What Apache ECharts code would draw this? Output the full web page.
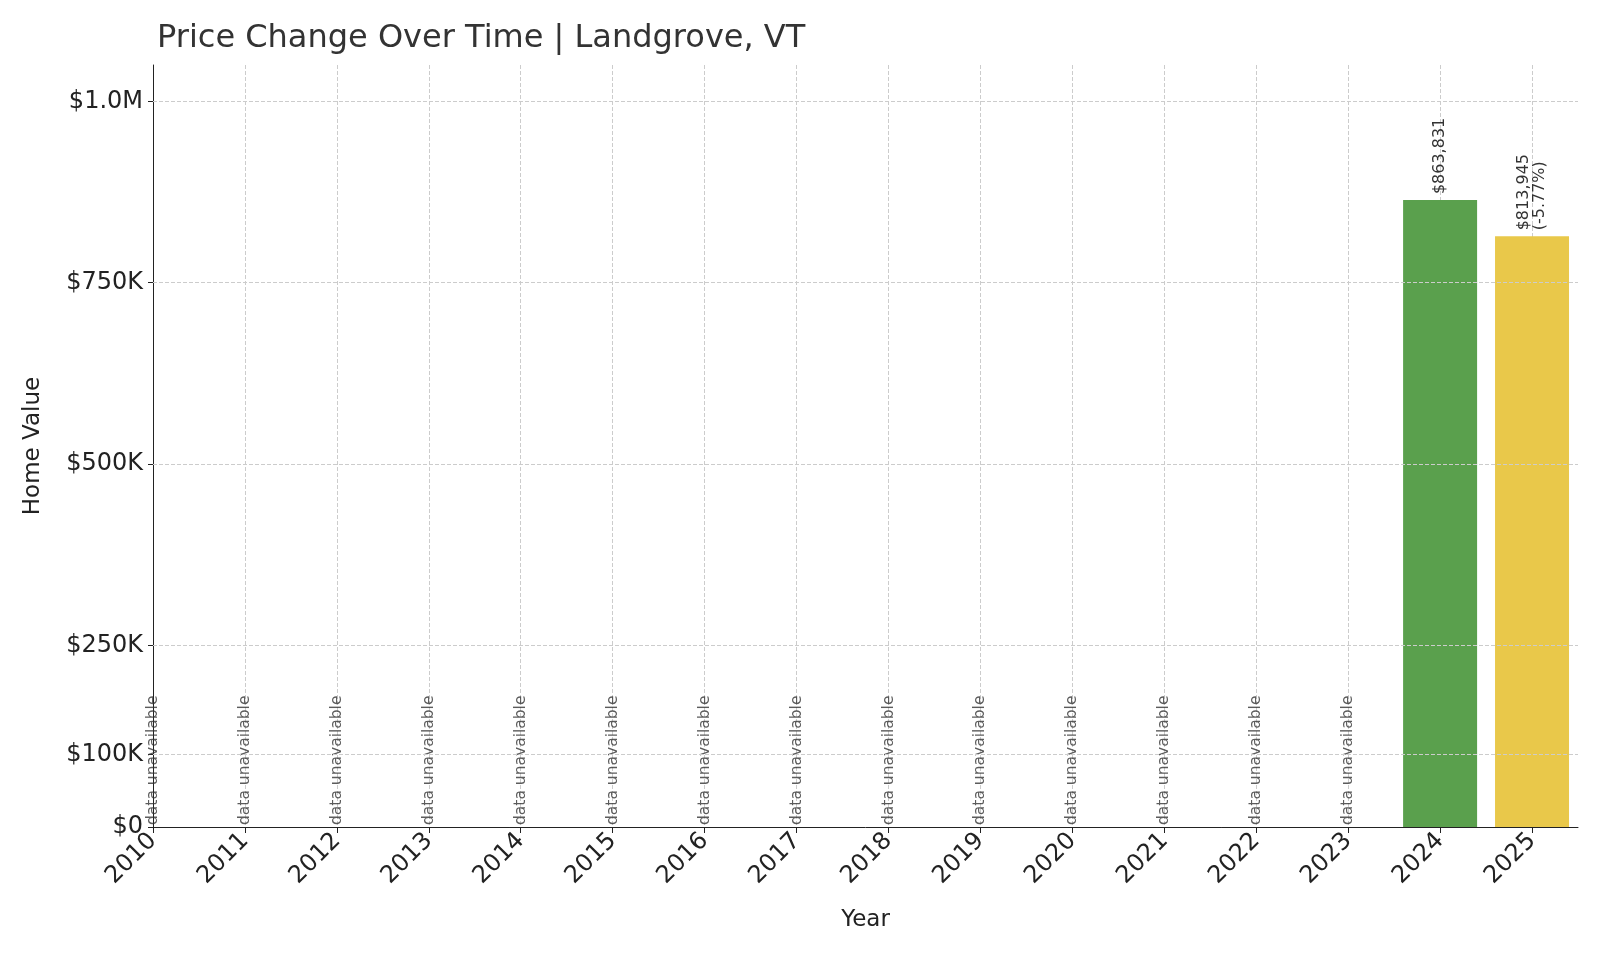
<!DOCTYPE html>
<html><head><meta charset="utf-8">
<script src="https://cdn.jsdelivr.net/npm/echarts@6/dist/echarts.min.js"></script>
<style>html,body{margin:0;padding:0;background:#fff}#c{width:1600px;height:960px}</style>
</head><body><div id="c"></div>
<script>
const missingYears = [2010,2011,2012,2013,2014,2015,2016,2017,2018,2019,2020,2021,2022,2023];
const barYears = [2024, 2025];
const barValues = [863831, 813945];
const barLabels = ['$863,831', '$813,945\n(-5.77%)'];
const barColors = ['#5aa04d', '#e9c84a'];
const yTicks = [0, 100000, 250000, 500000, 750000, 1000000];
const yTickLabels = ['$0', '$100K', '$250K', '$500K', '$750K', '$1.0M'];

const chart = echarts.init(document.getElementById('c'));
const font = 'DejaVu Sans';
chart.setOption({
  textStyle:{fontFamily:font},
  title:{text:'Price Change Over Time | Landgrove, VT', left:152, top:18,
    textStyle:{fontSize:32, fontWeight:'normal', color:'#333', fontFamily:font}},
  grid:{left:153, right:22, top:65, bottom:133},
  xAxis:{type:'value', min:2010, max:2025.5, interval:1, name:'Year', nameLocation:'middle', nameGap:82,
    nameTextStyle:{fontSize:23, color:'#222'},
    axisLine:{show:true, lineStyle:{color:'#222'}}, axisTick:{show:true, length:6, lineStyle:{color:'#222'}},
    axisLabel:{rotate:45, fontSize:24, color:'#222', margin:10, formatter:v=>v<=2025?String(v):'', showMaxLabel:false},
    splitLine:{show:true, showMaxLine:false, lineStyle:{type:'dashed', color:'#ccc'}}},
  yAxis:{type:'value', min:0, max:1050000, name:'Home Value', nameLocation:'middle', nameGap:108,
    nameTextStyle:{fontSize:23, color:'#222'},
    axisLine:{show:true, lineStyle:{color:'#222'}},
    axisTick:{show:true, customValues:yTicks, lineStyle:{color:'#222'}},
    axisLabel:{fontSize:24, color:'#222', margin:10, customValues:yTicks,
      formatter:v=>yTickLabels[yTicks.indexOf(v)] ?? ''},
    splitLine:{show:false}},
  series:[
    {type:'bar', barWidth:74,
      data:barYears.map((y,i)=>({value:[y,barValues[i]], itemStyle:{color:barColors[i]},
        label:{show:true, formatter:barLabels[i]}})),
      label:{show:true, position:'top', rotate:90, align:'left', verticalAlign:'middle', distance:6,
        fontSize:16, color:'#333', lineHeight:16},
      markLine:{silent:true, symbol:'none', label:{show:false},
        lineStyle:{type:'dashed', color:'#ccc', width:1},
        data:yTicks.slice(1).map(v=>({yAxis:v}))}, z:1},
    {type:'scatter', symbolSize:0, data:missingYears.map(y=>[y,0]),
      label:{show:true, position:'top', rotate:90, align:'left', verticalAlign:'middle', distance:2,
        formatter:'data unavailable', fontSize:15.5, color:'#333'}}
  ]
});
</script></body></html>
